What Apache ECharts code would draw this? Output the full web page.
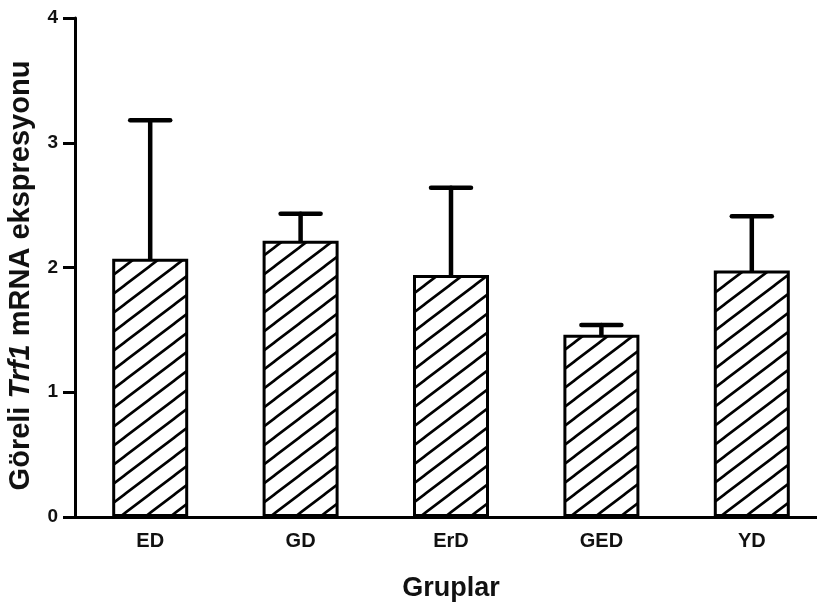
<!DOCTYPE html>
<html>
<head>
<meta charset="utf-8">
<script src="https://cdn.jsdelivr.net/npm/echarts@6/dist/echarts.min.js"></script>
<style>
  html, body { margin: 0; padding: 0; background: #fff; }
  #chart { width: 817px; height: 609px; }
</style>
</head>
<body>
<div id="chart"></div>
<script>
// gruplar ve degerler
const groups = ['ED', 'GD', 'ErD', 'GED', 'YD'];
const means = [2.07, 2.215, 1.94, 1.46, 1.975];
const sem = [1.11, 0.215, 0.70, 0.08, 0.435];
const yTicks = [0, 1, 2, 3, 4];

const FONT = '"Liberation Sans", Arial, sans-serif';

// taramali dolgu (/ cizgileri)
function makeHatch() {
  const w = 25, h = 19;
  const c = document.createElement('canvas');
  c.width = w; c.height = h;
  const ctx = c.getContext('2d');
  ctx.fillStyle = '#fff';
  ctx.fillRect(0, 0, w, h);
  ctx.strokeStyle = '#000';
  ctx.lineWidth = 2.6;
  ctx.beginPath();
  for (let n = 0; n <= 2; n++) {
    // x/w + y/h = n
    ctx.moveTo(n * w + w, -h);
    ctx.lineTo(n * w - 2 * w, 2 * h);
  }
  ctx.stroke();
  return c;
}

const chart = echarts.init(document.getElementById('chart'));

const option = {
  animation: false,
  grid: { left: 75, width: 752, top: 18, bottom: 92, outerBoundsMode: 'none', containLabel: false },
  xAxis: {
    type: 'category',
    data: groups,
    name: 'Gruplar',
    nameLocation: 'middle',
    nameGap: 58,
    nameTextStyle: { fontFamily: FONT, fontWeight: 'bold', fontSize: 27, color: '#111' },
    axisLine: { lineStyle: { color: '#000', width: 3 } },
    axisTick: { alignWithLabel: true, length: 9, lineStyle: { color: '#000', width: 3 } },
    axisLabel: { fontFamily: FONT, fontWeight: 'bold', fontSize: 20, color: '#111', margin: 14 }
  },
  yAxis: {
    type: 'value',
    min: yTicks[0],
    max: yTicks[yTicks.length - 1],
    interval: 1,
    name: '{n|Göreli }{i|Trf1}{n| mRNA ekspresyonu}',
    nameLocation: 'middle',
    nameRotate: 90,
    nameGap: 40,
    nameTextStyle: {
      padding: [0, 16, 0, 0],
      rich: {
        n: { fontFamily: FONT, fontWeight: 'bold', fontSize: 29, color: '#111' },
        i: { fontFamily: FONT, fontWeight: 'bold', fontStyle: 'italic', fontSize: 29, color: '#111' }
      }
    },
    splitLine: { show: false },
    axisLine: { show: true, lineStyle: { color: '#000', width: 3 } },
    axisTick: { show: true, length: 12, lineStyle: { color: '#000', width: 3 } },
    axisLabel: { fontFamily: FONT, fontWeight: 'bold', fontSize: 19, color: '#111', margin: 17 }
  },
  series: [
    {
      type: 'bar',
      data: means,
      barWidth: 76,
      itemStyle: {
        color: { image: makeHatch(), repeat: 'repeat' },
        borderColor: '#000',
        borderWidth: 3
      },
      z: 2
    },
    {
      type: 'custom',
      data: groups.map((g, i) => [i, means[i], means[i] + sem[i]]),
      z: 3,
      renderItem: function (params, api) {
        const base = api.coord([api.value(0), api.value(1)]);
        const top = api.coord([api.value(0), api.value(2)]);
        const half = 20;
        const style = { stroke: '#000', lineWidth: 4.5, lineCap: 'round' };
        return {
          type: 'group',
          children: [
            { type: 'line', shape: { x1: base[0], y1: base[1], x2: top[0], y2: top[1] }, style: style },
            { type: 'line', shape: { x1: top[0] - half, y1: top[1], x2: top[0] + half, y2: top[1] }, style: style }
          ]
        };
      }
    }
  ]
};

chart.setOption(option);
</script>
</body>
</html>
